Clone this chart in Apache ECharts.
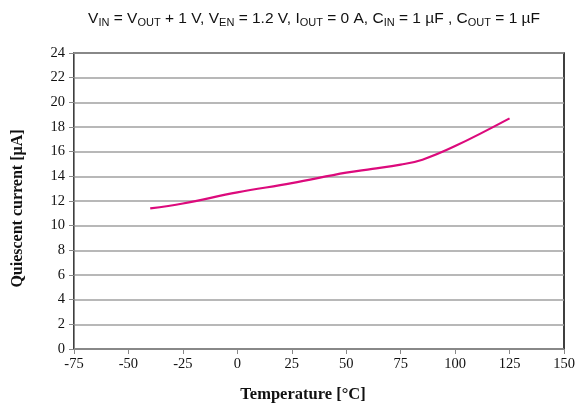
<!DOCTYPE html>
<html>
<head>
<meta charset="utf-8">
<script src="https://cdn.jsdelivr.net/npm/echarts@6/dist/echarts.min.js"></script>
<style>html,body{margin:0;padding:0;background:#fff;}#c{width:586px;height:408px;}</style>
</head>
<body>
<div id="c"></div>
<script>
const temperatures = [-40, -25, 0, 25, 50, 62, 75, 85, 100, 125];
const quiescentCurrent = [11.4, 11.8, 12.7, 13.45, 14.3, 14.6, 14.95, 15.35, 16.45, 18.7];
const xTicks = { min: -75, max: 150, interval: 25 };
const yTicks = { min: 0, max: 24, interval: 2 };

const chart = echarts.init(document.getElementById('c'));
chart.setOption({
  animation: false,
  title: {
    text: 'V{s|IN} = V{s|OUT} + 1 V, V{s|EN} = 1.2 V, I{s|OUT} = 0 A, C{s|IN} = 1 µF , C{s|OUT} = 1 µF',
    left: 309, top: 5, textAlign: 'center',
    textStyle: {
      fontFamily: 'Liberation Sans', fontSize: 15.5, fontWeight: 'normal', color: '#111',
      rich: { s: { fontFamily: 'Liberation Sans', fontSize: 11, color: '#111', padding: [7, 0, 0, 0] } }
    }
  },
  grid: { left: 74, right: 22, top: 53, bottom: 58, show: true, borderColor: '#000', borderWidth: 1.5 },
  xAxis: {
    type: 'value', min: xTicks.min, max: xTicks.max, interval: xTicks.interval,
    name: 'Temperature [°C]', nameLocation: 'middle', nameGap: 37,
    nameTextStyle: { fontFamily: 'Liberation Serif', fontSize: 16.5, fontWeight: 'bold', color: '#111', padding: [0, 32, 0, 0] },
    axisLine: { show: true, onZero: false, lineStyle: { color: '#888', width: 1 } },
    axisTick: { show: true, length: 5, lineStyle: { color: '#888' } },
    axisLabel: { fontFamily: 'Liberation Serif', fontSize: 14.5, color: '#111', margin: 8 },
    splitLine: { show: false }
  },
  yAxis: {
    type: 'value', min: yTicks.min, max: yTicks.max, interval: yTicks.interval,
    name: 'Quiescent current [µA]', nameLocation: 'middle', nameGap: 48,
    nameTextStyle: { fontFamily: 'Liberation Serif', fontSize: 16, fontWeight: 'bold', color: '#111', padding: [0, 15, 0, 0] },
    axisLine: { show: true, onZero: false, lineStyle: { color: '#888', width: 1 } },
    axisTick: { show: true, length: 5, lineStyle: { color: '#888' } },
    axisLabel: { fontFamily: 'Liberation Serif', fontSize: 14.5, color: '#111', margin: 9 },
    splitLine: { show: true, lineStyle: { color: '#a0a0a0', width: 1.5 } }
  },
  series: [{
    type: 'line',
    data: temperatures.map((t, i) => [t, quiescentCurrent[i]]),
    smooth: 0.4,
    showSymbol: false,
    lineStyle: { color: '#DC0a7c', width: 2.2 }
  }]
});
</script>
</body>
</html>
